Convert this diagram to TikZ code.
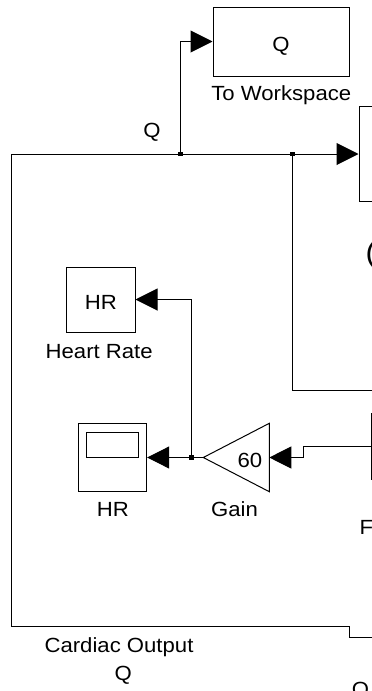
\documentclass[tikz,border=0pt]{standalone}
\usepackage{fontspec}
\setmainfont{Liberation Sans}[FakeStretch=1.08]
\usetikzlibrary{arrows.meta}
\tikzset{
  blk/.style={draw, line width=1pt, rectangle, inner sep=0pt},
  wire/.style={draw, line width=1pt},
  arr/.style={-{Triangle[length=22pt,width=22pt]}},
  jdot/.style={fill, rectangle, inner sep=0pt, minimum size=4.6pt},
  lbl/.style={inner sep=0pt, font=\fontsize{20.5}{24}\selectfont},
}
\begin{document}
\begin{tikzpicture}[x=1pt,y=-1pt]
\useasboundingbox (0,0) rectangle (372,691);
\clip (0,0) rectangle (372,691);
% blocks
\node[blk, minimum width=136pt, minimum height=69pt] (tows) at (281,41.5) {};
\node[blk, minimum width=100pt, minimum height=95pt] (blk1) at (409,154) {};
\node[blk, minimum width=69pt, minimum height=65pt] (hrws) at (100.5,299.5) {};
\node[blk, minimum width=68.4pt, minimum height=68.4pt] (scope) at (112.5,457.5) {};
\draw[line width=1pt] (86.7,432.7) rectangle (138.3,457.7);
\node[blk, minimum width=100pt, minimum height=66pt] (blk2) at (421,446) {};
% gain
\coordinate (gainL) at (203.3,457.5);
\coordinate (gainR) at (269.3,457.5);
\draw[line width=1pt, line join=miter] (gainL) -- (269.3,423.3) -- (269.3,491.7) -- cycle;
% junctions and free ends
\node[jdot] (j1) at (180.3,154) {};
\node[jdot] (j2) at (292.7,154) {};
\node[jdot] (j3) at (191.7,457.5) {};
\coordinate (inQ) at (385,637);
\coordinate (outR) at (385,390);
% connectors
\draw[wire, arr] (inQ) -- (349,637) -- (349,626) -- (11,626) -- (11,154) -- (blk1.west);
\draw[wire, arr] (j1.center) |- (tows.west);
\draw[wire] (j2.center) |- (outR);
\draw[wire, arr] (blk2.west) -- (303.3,446) -- (303.3,457.5) -- (gainR);
\draw[wire, arr] (gainL) -- (scope.east);
\draw[wire, arr] (j3.center) |- (hrws.east);
% texts
\node[lbl, anchor=base] (tQ) at (281,51.5) {Q};
\node[lbl, anchor=base] (tTW) at (281.3,100) {To Workspace};
\node[lbl, anchor=base] (tQtop) at (152,137.5) {Q};
\node[lbl, anchor=base] (tHR1) at (100.8,309.3) {HR};
\node[lbl, anchor=base] (tHRate) at (99.2,358.3) {Heart Rate};
\node[lbl, anchor=base] (t60) at (250,467.5) {60};
\node[lbl, anchor=base] (tHR2) at (112.8,516.5) {HR};
\node[lbl, anchor=base] (tGain) at (234.5,516.5) {Gain};
\node[lbl, anchor=base] (tCO) at (119,652.3) {Cardiac Output};
\node[lbl, anchor=base] (tCOQ) at (123.3,680) {Q};
\node[inner sep=0pt, anchor=base west, font=\fontsize{29}{32}\selectfont] (tParen) at (365.5,262) {(};
\node[lbl, anchor=base west] (tF) at (359.5,534.5) {F};
\node[lbl, anchor=base west] (tO) at (351.7,696) {O};
\end{tikzpicture}
\end{document}
